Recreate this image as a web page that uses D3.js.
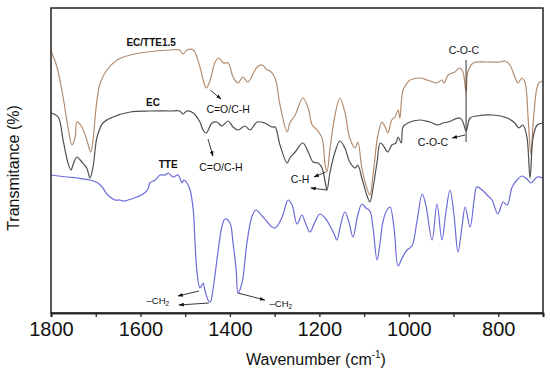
<!DOCTYPE html>
<html>
<head>
<meta charset="utf-8">
<script src="https://cdn.jsdelivr.net/npm/d3@7"></script>
<style>
  html, body { margin: 0; padding: 0; background: #fff; }
  svg { display: block; font-family: "Liberation Sans", Arial, sans-serif; }
</style>
</head>
<body>
<svg id="chart" width="550" height="374"></svg>
<script>
// ---------- DATA (wavenumber cm-1, transmittance in arbitrary offset units) ----------
const ecTteWave = [1800,1787,1773,1762,1753,1746,1742,1731,1720,1711,1706,1699,1690,1675,1652,1623,1585,1534,1512,1505,1496,1482,1467,1458,1453,1444,1433,1424,1415,1404,1393,1382,1371,1360,1339,1328,1317,1310,1299,1288,1272,1266,1254,1237,1225,1216,1205,1194,1187,1183,1176,1165,1154,1143,1132,1120,1114,1105,1094,1087,1080,1069,1060,1053,1047,1038,1031,1024,1020,1013,1002,997,975,959,946,937,926,921,912,897,886,879,872,868,856,825,796,785,774,763,756,747,740,733,727,722,713,707,700];
const ecTteT    = [52.4,49.3,43.2,37.2,33.6,35.2,38.2,37.2,34.6,32.2,34.6,41.2,46,48.6,50.6,51.6,52.2,52.6,52.6,51.8,52.6,52.6,49.2,46,45,46.6,50.2,51,50,50,47.2,46,47.2,46.2,49.2,49.6,48.6,48.4,47,41.6,36.2,38,39.6,43,41,37.6,36.6,35,29.6,28.2,33,39.6,43,40.2,35,33,34.2,29,25,23.6,27.6,35.6,38.2,37.2,36,38.6,39.2,40.6,39,44.6,46.2,46.6,47,46.6,46.2,46,46.6,46,47.6,48.2,49,48.2,44.2,48.2,50,50.2,50.2,50.4,49.6,47.2,46,47,46,38.6,31.6,38,45.2,46.2,46.2];

const ecWave = [1800,1784,1773,1762,1755,1751,1742,1731,1720,1713,1706,1697,1684,1661,1623,1579,1534,1512,1505,1496,1482,1467,1460,1453,1440,1429,1418,1404,1393,1382,1366,1355,1339,1322,1306,1299,1288,1272,1266,1254,1237,1225,1214,1203,1194,1187,1183,1176,1165,1154,1143,1132,1120,1114,1105,1094,1087,1080,1071,1064,1058,1047,1038,1029,1024,1017,1013,1002,975,953,935,924,912,886,879,872,863,848,812,780,763,754,745,736,729,722,713,700];
const ecT    = [40,39.2,34.6,30,28.6,29.6,31.2,30.2,29,27,29.2,35.2,38,39.2,40.2,40.4,40.4,40.4,39.8,40.4,40,38.2,36.6,36,38,38.2,37.4,38.4,37.2,36.6,37.4,36.6,38.2,38,37.2,37.2,33.6,30,31,32.2,34,32.2,30.2,30,29,26.2,24.6,28.2,32.2,34.4,33,30.2,29,29.6,27,23.6,22.2,25,30.2,34,33.6,32.2,33.6,34,35.2,34,37.2,38,38.6,38.2,37.6,38,38.2,39,38.2,36.4,39,39.4,39.6,39,38,37,37.6,35.2,27,35.2,37.6,38];

const tteWave = [1800,1764,1742,1713,1695,1684,1675,1657,1646,1639,1628,1608,1594,1583,1579,1567,1556,1545,1538,1527,1516,1507,1503,1496,1489,1482,1478,1474,1467,1460,1456,1449,1444,1438,1427,1418,1411,1400,1393,1386,1382,1373,1362,1351,1342,1326,1306,1299,1284,1277,1270,1261,1250,1239,1232,1221,1210,1199,1187,1176,1167,1161,1152,1143,1134,1125,1114,1105,1096,1087,1080,1071,1064,1058,1049,1042,1033,1024,1015,1004,993,982,970,962,948,937,926,917,908,899,890,881,874,863,854,848,836,825,814,801,789,780,769,758,747,736,727,713,700];
const tteT    = [27.6,27.2,27,26.6,26,25,23.8,22.6,22.6,22.4,22.6,23.2,23.8,24.8,26,26.6,27.6,27.6,28,27.2,27.6,26,26.6,26,24.6,20.6,14,8.6,5,6,4.6,2.6,2.2,4.6,12,17.2,18.8,18,14,8.6,4,6,14,19.2,20.6,19.2,17.2,17,19,21,22.6,21.6,17.8,19.6,18.2,16.2,18.2,19.8,19,17.4,15.8,14.6,17.8,20.2,18.2,15.2,19.6,21.8,21,20.4,17,10.6,14.2,18.2,20.6,21.2,17,9.4,11,12.6,13.4,18.2,23.8,21.6,14.6,21.8,14.6,20.2,24.6,19.6,12.2,17.4,21.2,17.2,22.6,25.2,24.6,23.6,22.6,19.8,22.2,21.6,25.2,26.6,27.4,26.8,26,27.2,27];

const seriesNames = ["EC/TTE1.5", "EC", "TTE"];
const majorTicks = [1800,1600,1400,1200,1000,800];
const minorTicks = [1700,1500,1300,1100,900,700];
const xTitle = "Wavenumber (cm";
const yTitle = "Transmitance (%)";

// annotations in data coordinates
const seriesLabels = [
  {text:"EC/TTE1.5", w:1576, t:53.4},
  {text:"EC", w:1572, t:41.4},
  {text:"TTE", w:1538, t:29}
];
const bandLabels = [
  {text:"C=O/C-H", w:1404, t:40},
  {text:"C=O/C-H", w:1420, t:28.4},
  {text:"C-H", w:1243, t:26},
  {text:"C-O-C", w:877, t:51.8},
  {text:"C-O-C", w:946, t:33.4}
];
const ch2Labels = [
  {w:1561, t:1.8},
  {w:1286, t:1.2}
];
const arrows = [
  {w1:1444, t1:44.6, w2:1420, t2:42.8},
  {w1:1449, t1:34.8, w2:1438, t2:31.4},
  {w1:1186, t1:28.2, w2:1212, t2:27.2},
  {w1:1183, t1:24.6, w2:1219, t2:25},
  {w1:874, t1:35.6, w2:903, t2:35},
  {w1:1469, t1:4.4, w2:1516, t2:3.4},
  {w1:1447, t1:2.0, w2:1514, t2:1.6},
  {w1:1382, t1:4.0, w2:1322, t2:2.6}
];
const cocLine = {w:872, t1:50.6, t2:34.2};

// ---------- CHART ----------
const svg = d3.select("#chart");
const margin = {left:51, right:7, top:8, bottom:61};
const W = 550, H = 374;
const x = d3.scaleLinear().domain([1800,700]).range([margin.left, W - margin.right]);
const y = d3.scaleLinear().domain([0,61]).range([H - margin.bottom, margin.top]);

const colors = ["#b48c6e", "#4f4f4f", "#6b6bd9"];
const datasets = [
  ecTteWave.map((w,i)=>({w, t:ecTteT[i]})),
  ecWave.map((w,i)=>({w, t:ecT[i]})),
  tteWave.map((w,i)=>({w, t:tteT[i]}))
];

const line = d3.line().x(d=>x(d.w)).y(d=>y(d.t)).curve(d3.curveCatmullRom.alpha(0.5));

svg.append("defs").append("marker")
  .attr("id","ah").attr("viewBox","0 0 10 10").attr("refX",9).attr("refY",5)
  .attr("markerWidth",6).attr("markerHeight",6).attr("orient","auto")
  .append("path").attr("d","M0,1.5 L10,5 L0,8.5 Z").attr("fill","#111");

const plot = svg.append("g");
datasets.forEach((ds,i)=>{
  plot.append("path").datum(ds)
    .attr("fill","none").attr("stroke",colors[i]).attr("stroke-width",1.2)
    .attr("stroke-linejoin","round")
    .attr("d",line);
});

// frame
svg.append("rect").attr("x",margin.left).attr("y",margin.top)
  .attr("width",W-margin.left-margin.right).attr("height",H-margin.top-margin.bottom)
  .attr("fill","none").attr("stroke","#222").attr("stroke-width",1.5);

// x axis
const xAxisG = svg.append("g").attr("transform",`translate(0,${H-margin.bottom})`);
xAxisG.call(d3.axisBottom(x).tickValues(majorTicks).tickSize(4).tickPadding(5).tickFormat(d3.format("d")));
const minorG = svg.append("g").attr("transform",`translate(0,${H-margin.bottom})`);
minorG.call(d3.axisBottom(x).tickValues(minorTicks).tickSize(4).tickFormat(""));
[xAxisG, minorG].forEach(g=>{
  g.select(".domain").attr("stroke","#222").attr("stroke-width",1.5);
  g.selectAll(".tick line").attr("stroke","#222").attr("stroke-width",1.3);
});
xAxisG.selectAll(".tick text").attr("font-size",20).attr("fill","#111")
  .attr("font-family","'Liberation Sans', Arial, sans-serif");

// axis titles
const xt = svg.append("text").attr("x",316).attr("y",365).attr("text-anchor","middle")
  .attr("font-size",16).attr("fill","#111");
xt.append("tspan").text(xTitle);
xt.append("tspan").attr("font-size",10).attr("dy",-7).text("-1");
xt.append("tspan").attr("dy",7).text(")");

svg.append("text").attr("transform",`translate(19,168) rotate(-90)`)
  .attr("text-anchor","middle").attr("font-size",16).attr("fill","#111").text(yTitle);

// series labels
svg.selectAll(".slab").data(seriesLabels).enter().append("text")
  .attr("x",d=>x(d.w)).attr("y",d=>y(d.t)).attr("text-anchor","middle")
  .attr("font-size",10).attr("font-weight","bold").attr("fill","#111").text(d=>d.text);

// band labels
svg.selectAll(".blab").data(bandLabels).enter().append("text")
  .attr("x",d=>x(d.w)).attr("y",d=>y(d.t)).attr("text-anchor","middle")
  .attr("font-size",10.5).attr("fill","#111").text(d=>d.text);

// CH2 labels
ch2Labels.forEach(d=>{
  const t = svg.append("text").attr("x",x(d.w)).attr("y",y(d.t)).attr("text-anchor","middle")
    .attr("font-size",9.5).attr("fill","#111");
  t.append("tspan").text("\u2013CH");
  t.append("tspan").attr("font-size",6.5).attr("dy",2).text("2");
});

// arrows
svg.selectAll(".arr").data(arrows).enter().append("line")
  .attr("x1",d=>x(d.w1)).attr("y1",d=>y(d.t1)).attr("x2",d=>x(d.w2)).attr("y2",d=>y(d.t2))
  .attr("stroke","#222").attr("stroke-width",0.9).attr("marker-end","url(#ah)");

// C-O-C vertical line
svg.append("line").attr("x1",x(cocLine.w)).attr("x2",x(cocLine.w))
  .attr("y1",y(cocLine.t1)).attr("y2",y(cocLine.t2))
  .attr("stroke","#333").attr("stroke-width",1);
</script>
</body>
</html>
